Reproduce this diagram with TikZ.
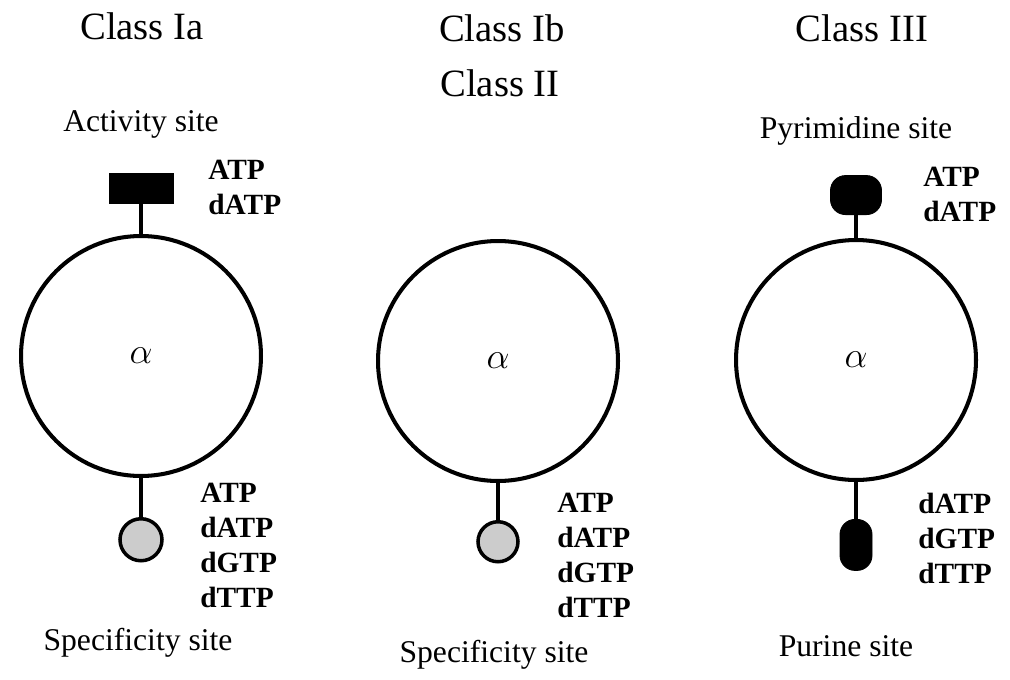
\documentclass[tikz,border=0pt]{standalone}
\usepackage{fontspec}
\setmainfont{Liberation Serif}
\usetikzlibrary{positioning}

\tikzset{
  subunit/.style={circle, draw, line width=2.3pt, minimum size=4.8cm, inner sep=0pt,
    font=\fontsize{20}{24}\selectfont},
  boxsite/.style={rectangle, draw, fill=black, line width=0.5pt, inner sep=0pt},
  ballsite/.style={circle, draw, line width=2pt, fill=gray!40, inner sep=0pt},
  stem/.style={line width=2pt},
  title/.style={anchor=base, inner sep=0pt, font=\fontsize{22}{26}\selectfont},
  sitename/.style={anchor=base, inner sep=0pt, font=\fontsize{18}{22}\selectfont},
  ligands/.style={anchor=north west, inner sep=0pt, align=left,
    font=\fontsize{16.7}{19.8}\selectfont\bfseries},
}

\begin{document}
\begin{tikzpicture}[x=0.02cm,y=-0.02cm]
\useasboundingbox (0,0) rectangle (1010,679);

% class headings
\node[title] (tia) at (142,40) {Class Ia};
\node[title] (tib) at (502,42) {Class Ib};
\node[title] (tii) at (500,96) {Class II};
\node[title] (tiii) at (862,42) {Class III};

% class Ia
\node[subunit] (ca) at (141,356) {$\alpha$};
\node[boxsite, minimum width=1.28cm, minimum height=0.6cm, above=0.6cm of ca] (acta) {};
\node[ballsite, minimum size=0.84cm, below=0.78cm of ca] (spca) {};
\draw[stem] (ca) -- (acta);
\draw[stem] (ca) -- (spca);
\node[sitename] (actn) at (141,132) {Activity site};
\node[sitename] (spcna) at (138,650) {Specificity site};
\node[ligands] (lacta) at (208,160) {ATP\\dATP};
\node[ligands] (lspca) at (200,483) {ATP\\dATP\\dGTP\\dTTP};

% class Ib / II
\node[subunit] (cb) at (498,361) {$\alpha$};
\node[ballsite, minimum size=0.8cm, below=0.74cm of cb] (spcb) {};
\draw[stem] (cb) -- (spcb);
\node[sitename] (spcnb) at (494,662) {Specificity site};
\node[ligands] (lspcb) at (557,493) {ATP\\dATP\\dGTP\\dTTP};

% class III
\node[subunit] (cc) at (856,360) {$\alpha$};
\node[boxsite, minimum width=1.02cm, minimum height=0.78cm, rounded corners=0.3cm,
  above=0.46cm of cc] (pyrc) {};
\node[boxsite, minimum width=0.64cm, minimum height=1.02cm, rounded corners=0.3cm,
  below=0.74cm of cc] (purc) {};
\draw[stem] (cc) -- (pyrc);
\draw[stem] (cc) -- (purc);
\node[sitename] (pyrn) at (856,138) {Pyrimidine site};
\node[sitename] (purn) at (846,656) {Purine site};
\node[ligands] (lpyrc) at (923,167) {ATP\\dATP};
\node[ligands] (lpurc) at (918,493) {dATP\\dGTP\\dTTP};
\end{tikzpicture}
\end{document}
